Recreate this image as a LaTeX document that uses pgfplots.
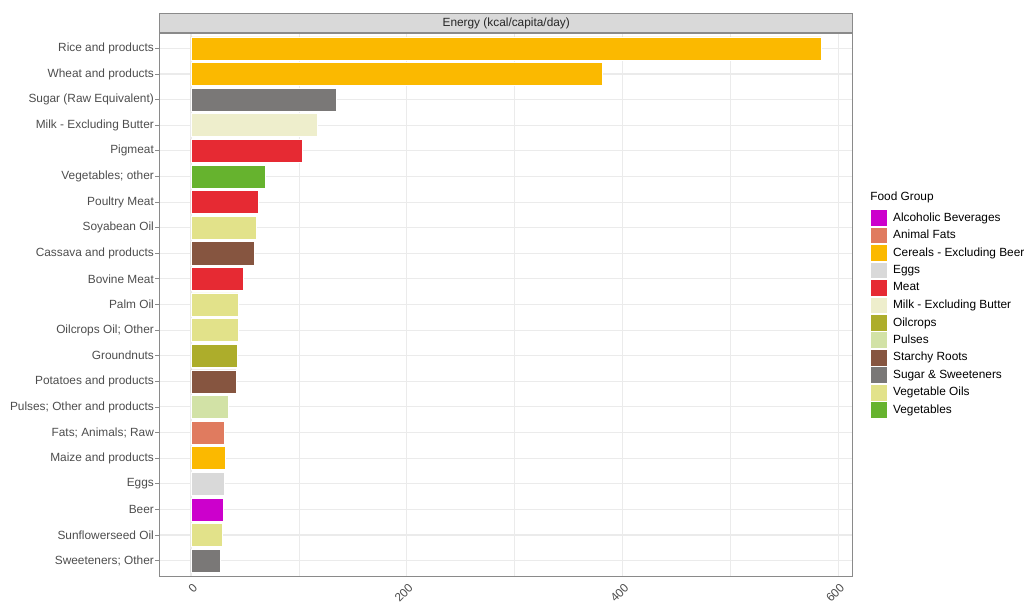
\documentclass[border=0pt]{standalone}
\usepackage{pgfplots}
\pgfplotsset{compat=1.18}
\usepackage{fontspec}
\setmainfont{Liberation Sans}
\definecolor{cAlc}{HTML}{CC00CC}
\definecolor{cFat}{HTML}{E07B5F}
\definecolor{cCer}{HTML}{FBB900}
\definecolor{cEgg}{HTML}{D9D9D9}
\definecolor{cMeat}{HTML}{E62A33}
\definecolor{cMilk}{HTML}{EEEECC}
\definecolor{cOilc}{HTML}{ADAD2B}
\definecolor{cPul}{HTML}{D2E2A6}
\definecolor{cRoot}{HTML}{865540}
\definecolor{cSug}{HTML}{7A7877}
\definecolor{cVOil}{HTML}{E2E28A}
\definecolor{cVeg}{HTML}{66B32E}
\definecolor{axgray}{HTML}{8A8A8A}
\definecolor{gridgray}{HTML}{EBEBEB}
\definecolor{txtgray}{HTML}{4D4D4D}
\definecolor{stripgray}{HTML}{D9D9D9}
\pgfplotsset{sqlegend/.style={legend image code/.code={\draw[##1,draw=white,line width=0.5pt] (0pt,-6.3pt) rectangle (12.6pt,6.3pt);}}}
\begin{document}
\begin{tikzpicture}
\useasboundingbox (-119.625pt,-20.25pt) rectangle (655.125pt,432pt);
\begin{axis}[
  at={(0,0)}, anchor=south west,
  width=520.1pt, height=407.25pt, scale only axis,
  xbar, bar width=0.9, bar shift=0pt,
  xmin=-29.2, xmax=613.8,
  ymin=-0.6, ymax=20.6, y dir=reverse,
  axis line style={draw=axgray, line width=0.75pt},
  xtick={0,200,400,600}, minor xtick={100,300,500},
  ytick={0,...,20},
  yticklabels={Rice and products,Wheat and products,Sugar (Raw Equivalent),Milk - Excluding Butter,Pigmeat,Vegetables; other,Poultry Meat,Soyabean Oil,Cassava and products,Bovine Meat,Palm Oil,Oilcrops Oil; Other,Groundnuts,Potatoes and products,Pulses; Other and products,Fats; Animals; Raw,Maize and products,Eggs,Beer,Sunflowerseed Oil,Sweeteners; Other},
  xmajorgrids, xminorgrids, ymajorgrids,
  major grid style={draw=gridgray, line width=0.8pt},
  minor grid style={draw=gridgray, line width=0.45pt},
  tick align=outside, major tick length=3pt, minor tick length=0pt,
  tick style={draw=axgray, line width=0.6pt},
  xtick style={draw=none},
  xtick pos=bottom, ytick pos=left,
  /pgf/number format/assume math mode=true,
  tick label style={font=\fontsize{8.9}{10.7}\selectfont, text=txtgray},
  xticklabel style={xshift=3.2pt, yshift=-4.4pt, rotate=45, anchor=east, inner sep=0pt},
  yticklabel style={anchor=east, xshift=2.3pt},
  title={Energy (kcal/capita/day)},
  every axis title shift=0pt,
  title style={at={(0.5,1)}, anchor=south, yshift=0pt, draw=axgray, fill=stripgray, line width=0.75pt,
    minimum width=520.1pt, minimum height=14.25pt, inner sep=0pt,
    font=\fontsize{8.9}{10.7}\selectfont, text=black!85},
  every axis plot post/.append style={sqlegend},
  legend cell align=left,
  legend style={name=leg, at={(1,0.676)}, anchor=north west, xshift=12.8pt,
    draw=none, fill=none, inner sep=0pt, row sep=0pt,
    font=\fontsize{8.9}{10.7}\selectfont,
    nodes={inner ysep=0pt, inner xsep=2pt, minimum height=13.09pt},
    /tikz/every odd column/.style={column sep=2pt}},
]
\addplot[fill=cAlc, draw=white, line width=0.4pt] coordinates {(30.0,18)};
\addlegendentry{Alcoholic Beverages}
\addplot[fill=cFat, draw=white, line width=0.4pt] coordinates {(31.2,15)};
\addlegendentry{Animal Fats}
\addplot[fill=cCer, draw=white, line width=0.4pt] coordinates {(584.6,0) (381.2,1) (31.5,16)};
\addlegendentry{Cereals - Excluding Beer}
\addplot[fill=cEgg, draw=white, line width=0.4pt] coordinates {(31.2,17)};
\addlegendentry{Eggs}
\addplot[fill=cMeat, draw=white, line width=0.4pt] coordinates {(103.1,4) (62.0,6) (48.5,9)};
\addlegendentry{Meat}
\addplot[fill=cMilk, draw=white, line width=0.4pt] coordinates {(116.9,3)};
\addlegendentry{Milk - Excluding Butter}
\addplot[fill=cOilc, draw=white, line width=0.4pt] coordinates {(43.2,12)};
\addlegendentry{Oilcrops}
\addplot[fill=cPul, draw=white, line width=0.4pt] coordinates {(34.9,14)};
\addlegendentry{Pulses}
\addplot[fill=cRoot, draw=white, line width=0.4pt] coordinates {(58.3,8) (41.7,13)};
\addlegendentry{Starchy Roots}
\addplot[fill=cSug, draw=white, line width=0.4pt] coordinates {(134.3,2) (27.5,20)};
\addlegendentry{Sugar \& Sweeteners}
\addplot[fill=cVOil, draw=white, line width=0.4pt] coordinates {(60.6,7) (43.9,10) (43.5,11) (29.4,19)};
\addlegendentry{Vegetable Oils}
\addplot[fill=cVeg, draw=white, line width=0.4pt] coordinates {(68.9,5)};
\addlegendentry{Vegetables}
\end{axis}
\node[anchor=south west, inner sep=0pt, font=\fontsize{8.9}{10.7}\selectfont] at ([yshift=4pt]leg.north west) {Food Group};
\end{tikzpicture}
\end{document}
